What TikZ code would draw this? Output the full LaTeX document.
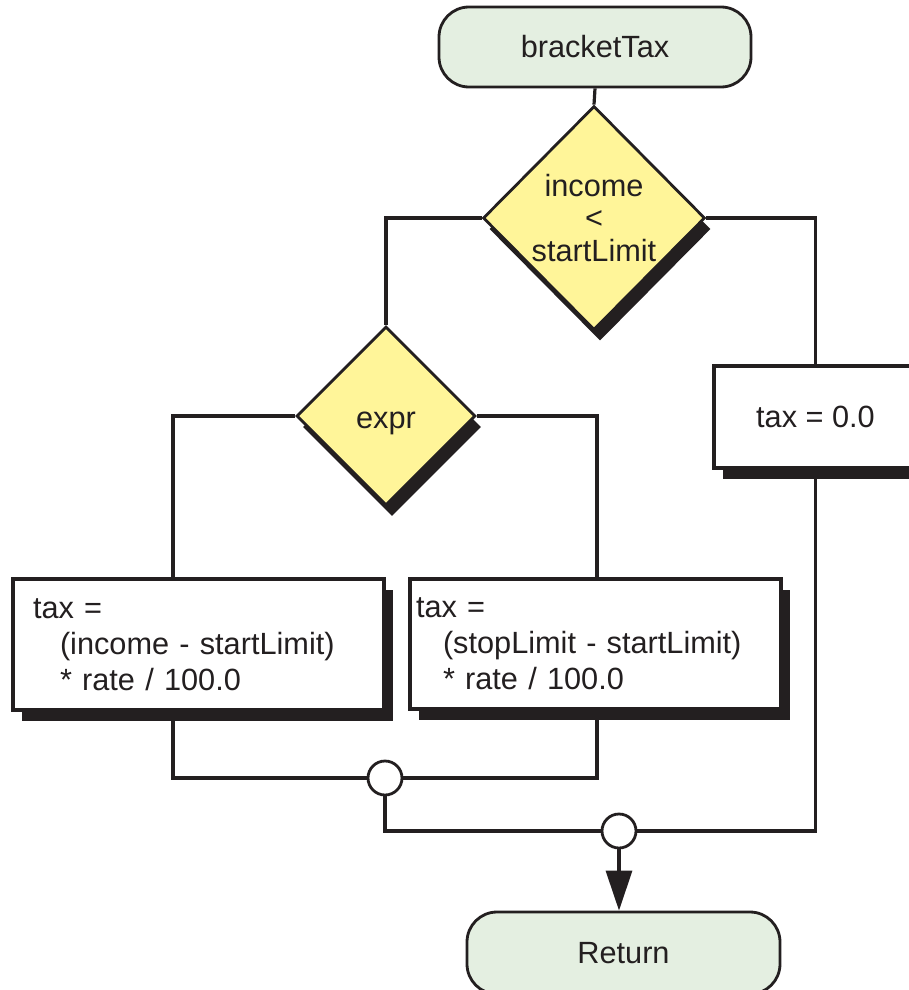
\documentclass[tikz,border=0pt]{standalone}
\usepackage{fontspec}
\setmainfont{Liberation Sans}
\usetikzlibrary{shapes.geometric,shadows,arrows.meta}
\definecolor{ink}{HTML}{231F20}
\definecolor{termfill}{RGB}{228,239,225}
\definecolor{decfill}{RGB}{255,245,153}

\begin{document}
\begin{tikzpicture}[x=1pt,y=-1pt,
  every node/.style={font=\fontsize{30.7}{36}\selectfont, text=ink},
  terminal/.style={rectangle, draw=ink, line width=2.8pt, fill=termfill,
    rounded corners=30pt, inner sep=0pt},
  decision/.style={diamond, draw=ink, line width=2.8pt, fill=decfill,
    inner sep=0pt, align=center,
    drop shadow={shadow xshift=6pt, shadow yshift=-11pt, fill=ink, opacity=1}},
  procbox/.style={rectangle, draw=ink, line width=3.2pt, fill=white,
    inner ysep=0pt, align=left,
    drop shadow={shadow xshift=9pt, shadow yshift=-11pt, fill=ink, opacity=1}},
  junction/.style={circle, draw=ink, line width=2.8pt, fill=white,
    minimum size=34pt, inner sep=0pt},
  flow/.style={draw=ink, line width=3.2pt},
]
\useasboundingbox (0,0) rectangle (908,990);

% start and end terminals
\node[terminal, minimum width=312pt, minimum height=80pt] (start) at (595,47) {bracketTax};
\node[terminal, minimum width=313pt, minimum height=82pt] (ret) at (623.5,953) {Return};

% decisions
\node[decision, minimum width=222pt, minimum height=224pt,
      font=\fontsize{30.7}{32.5}\selectfont] (d1) at (594,218) {income\\<\\startLimit};
\node[decision, minimum width=179pt, minimum height=179pt,
      text height=31pt, text depth=6.4pt] (d2) at (386,416) {expr};

% assignments
\node[procbox, minimum width=203pt, minimum height=102pt, align=center] (t0) at (815.5,417) {tax = 0.0};
\node[procbox, text width=331pt, inner xsep=20pt, minimum height=131pt] (bL) at (198.5,644.5)
  {tax =\\\hspace*{27pt}(income - startLimit)\\\hspace*{27pt}* rate / 100.0};
\node[procbox, text width=359pt, inner xsep=6pt, minimum height=130pt] (bR) at (595.5,644)
  {tax =\\\hspace*{27pt}(stopLimit - startLimit)\\\hspace*{27pt}* rate / 100.0};

% merge points
\node[junction] (j1) at (385,778) {};
\node[junction] (j2) at (619,831) {};

% flow lines
\draw[flow] (start.south) -- (d1.north);
\draw[flow] (d1.west) -| (d2.north);
\draw[flow] (d1.east) -| (t0.north);
\draw[flow] (d2.west) -| ([xshift=-25.5pt]bL.north);
\draw[flow] (d2.east) -| ([xshift=1.5pt]bR.north);
\draw[flow] ([xshift=-25.5pt]bL.south) |- (j1.west);
\draw[flow] ([xshift=1.5pt]bR.south) |- (j1.east);
\draw[flow] (j1.south) |- (j2.west);
\draw[flow] (t0.south) |- (j2.east);
\draw[flow, -{Triangle[width=26pt,length=40pt]}] (j2.south) -- (j2.south |- ret.north);
\end{tikzpicture}
\end{document}
